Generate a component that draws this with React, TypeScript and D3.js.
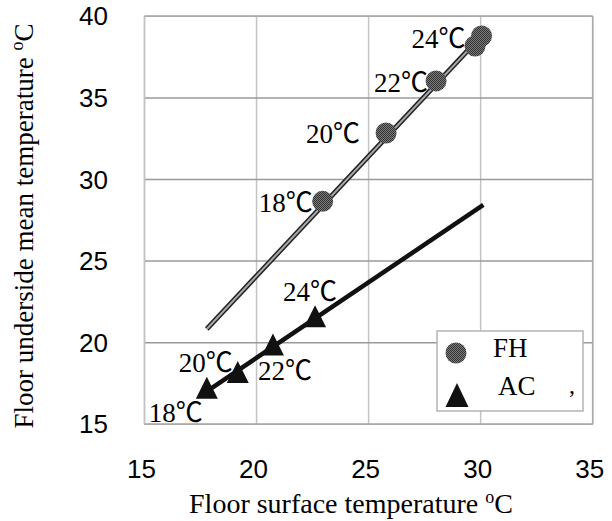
import React from "react";
import * as d3 from "d3";

// ---- data ----
const xTicks = [15, 20, 25, 30, 35];
const yTicks = [15, 20, 25, 30, 35, 40];

const fhX = [22.95, 25.78, 28.01, 29.75, 30.04];
const fhY = [28.66, 32.85, 36.04, 38.18, 38.79];
const fhLabels = ["18℃", "20℃", "22℃", "", "24℃"];

const acX = [17.78, 19.16, 20.73, 22.61];
const acY = [17.02, 17.98, 19.66, 21.4];
const acLabels = ["18℃", "20℃", "22℃", "24℃"];

const fhFitX = [17.78, 30.07];
const fhFitY = [20.84, 38.85];
const acFitX = [17.78, 30.12];
const acFitY = [17.02, 28.44];

const legendNames = ["FH", "AC"];

// ---- layout (pixel offsets for labels, not data) ----
const fhLabelPos: [string, number, number][] = [
  ["end", -10, 11],
  ["end", -26, 10],
  ["end", -8, 11],
  ["end", 0, 0],
  ["end", -16, 12],
];
const acLabelPos: [string, number, number][] = [
  ["end", -4, 31],
  ["end", -5, -4],
  ["start", -15, 32],
  ["start", -32, -19],
];

const W = 612;
const H = 521;
const serif = "'Liberation Serif', 'Times New Roman', serif";
const labelFont = "'Liberation Serif', 'Noto Sans CJK JP', serif";
const sans = "'Liberation Sans', Arial, sans-serif";

export default function App() {
  const x = d3.scaleLinear().domain([15, 35]).range([144.5, 592.7]);
  const y = d3.scaleLinear().domain([15, 40]).range([424.3, 16.3]);
  const line = d3
    .line<[number, number]>()
    .x((d) => x(d[0]))
    .y((d) => y(d[1]));
  const fhFit = line(fhFitX.map((v, i) => [v, fhFitY[i]]) as [number, number][]) || "";
  const acFit = line(acFitX.map((v, i) => [v, acFitY[i]]) as [number, number][]) || "";
  const tri = (cx: number, cy: number, w: number, h: number) =>
    `M${cx},${cy - (2 * h) / 3}L${cx + w / 2},${cy + h / 3}L${cx - w / 2},${cy + h / 3}Z`;

  const [x0, x1] = x.range();
  const [y0, y1] = y.range();

  return (
    <svg
      width={W}
      height={H}
      style={{ position: "absolute", left: 0, top: 0, background: "#fff" }}
    >
      <defs>
        <pattern id="dither" width={2} height={2} patternUnits="userSpaceOnUse">
          <rect width={2} height={2} fill="#7a7a7a" />
          <rect width={1} height={1} fill="#333" />
          <rect x={1} y={1} width={1} height={1} fill="#333" />
        </pattern>
      </defs>
      <rect x={0} y={0} width={W} height={H} fill="#fff" />
      {/* grid */}
      {xTicks.map((t) => (
        <line key={"gx" + t} x1={x(t)} x2={x(t)} y1={y1} y2={y0} stroke="#c4c4c4" strokeWidth={1.5} />
      ))}
      {yTicks.map((t) => (
        <line key={"gy" + t} x1={x0} x2={x1} y1={y(t)} y2={y(t)} stroke="#9a9a9a" strokeWidth={1.5} />
      ))}
      <line x1={x0} x2={x0} y1={y1} y2={y0} stroke="#c4c4c4" strokeWidth={1.5} />
      <line x1={x1} x2={x1} y1={y1} y2={y0} stroke="#aaaaaa" strokeWidth={1.5} />
      <line x1={x0} x2={x1} y1={y1} y2={y1} stroke="#aaaaaa" strokeWidth={1.5} />
      <line x1={x0} x2={x1} y1={y0} y2={y0} stroke="#aaaaaa" strokeWidth={1.5} />

      {/* tick labels */}
      {yTicks.map((t) => (
        <text key={"ty" + t} x={108} y={y(t) + 9} textAnchor="end" fontFamily={sans} fontSize={26} fill="#000">
          {t}
        </text>
      ))}
      {xTicks.map((t) => (
        <text key={"tx" + t} x={x(t) - 3} y={478} textAnchor="middle" fontFamily={sans} fontSize={26} fill="#000">
          {t}
        </text>
      ))}

      {/* fit lines */}
      <path d={fhFit} fill="none" stroke="#222" strokeWidth={5} />
      <path d={fhFit} fill="none" stroke="#aaa" strokeWidth={2} />
      <path d={acFit} fill="none" stroke="#111" strokeWidth={4.5} />

      {/* FH points */}
      {fhX.map((v, i) => (
        <circle key={"fh" + i} cx={x(v)} cy={y(fhY[i])} r={10.5} fill="url(#dither)" />
      ))}
      {/* AC points */}
      {acX.map((v, i) => (
        <path key={"ac" + i} d={tri(x(v), y(acY[i]), 22, 22)} fill="#111" />
      ))}

      {/* labels */}
      {fhLabels.map((l, i) =>
        l ? (
          <text
            key={"fl" + i}
            x={x(fhX[i]) + fhLabelPos[i][1]}
            y={y(fhY[i]) + fhLabelPos[i][2]}
            textAnchor={fhLabelPos[i][0] as any}
            fontFamily={labelFont}
            fontSize={27}
            fill="#000"
          >
            {l}
          </text>
        ) : null
      )}
      {acLabels.map((l, i) => (
        <text
          key={"al" + i}
          x={x(acX[i]) + acLabelPos[i][1]}
          y={y(acY[i]) + acLabelPos[i][2]}
          textAnchor={acLabelPos[i][0] as any}
          fontFamily={labelFont}
          fontSize={27}
          fill="#000"
        >
          {l}
        </text>
      ))}

      {/* legend */}
      <rect x={437} y={331} width={146} height={80} fill="#fff" stroke="#b4b4b4" strokeWidth={1.5} />
      <circle cx={456} cy={353} r={10.5} fill="url(#dither)" />
      <text x={493} y={357} fontFamily={serif} fontSize={27} fill="#000">
        {legendNames[0]}
      </text>
      <path d={tri(457, 399, 23, 24)} fill="#111" />
      <text x={498} y={395} fontFamily={serif} fontSize={27} fill="#000">
        {legendNames[1]}
      </text>
      <text x={569} y={393} fontFamily={serif} fontSize={24} fill="#000">
        ,
      </text>

      {/* axis titles */}
      <text x={351} y={513} textAnchor="middle" fontFamily={serif} fontSize={28} fill="#000">
        Floor surface temperature <tspan fontSize={18} dy={-10}>o</tspan>
        <tspan dy={10}>C</tspan>
      </text>
      <text
        transform="translate(33,226) rotate(-90)"
        textAnchor="middle"
        fontFamily={serif}
        fontSize={27}
        fill="#000"
      >
        Floor underside mean temperature <tspan fontSize={18} dy={-10}>o</tspan>
        <tspan dy={10}>C</tspan>
      </text>
    </svg>
  );
}
